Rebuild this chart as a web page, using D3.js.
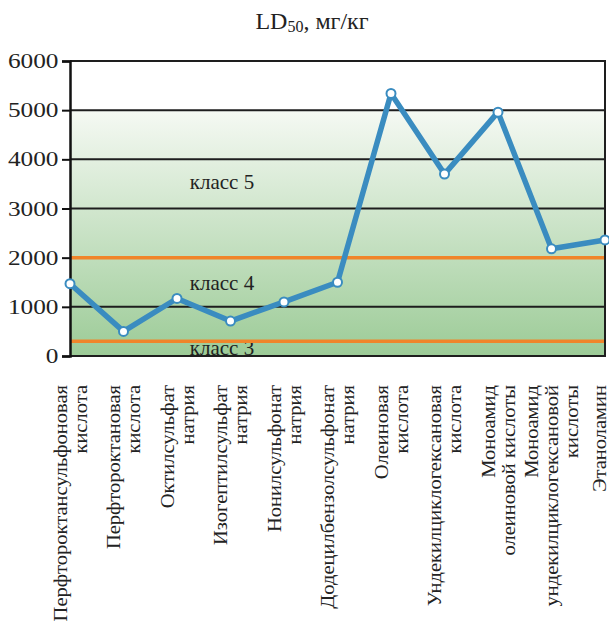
<!DOCTYPE html>
<html><head><meta charset="utf-8">
<script src="https://cdn.jsdelivr.net/npm/d3@7"></script>
<style>body{margin:0;background:#fff}svg{display:block}</style>
</head><body>
<svg id="c" width="609" height="626"></svg>
<script>
const categories = [
  ["Перфтороктансульфоновая","кислота"],
  ["Перфтороктановая","кислота"],
  ["Октилсульфат","натрия"],
  ["Изогептилсульфат","натрия"],
  ["Нонилсульфонат","натрия"],
  ["Додецилбензолсульфонат","натрия"],
  ["Олеиновая","кислота"],
  ["Ундекилциклогексановая","кислота"],
  ["Моноамид","олеиновой кислоты"],
  ["Моноамид","ундекилциклогексановой","кислоты"],
  ["Этаноламин"]
];
const ld50 = [1470, 500, 1170, 710, 1100, 1500, 5340, 3700, 4960, 2180, 2360];
const yTicks = [0, 1000, 2000, 3000, 4000, 5000, 6000];
const gridValues = [1000, 3000, 4000, 5000];
const classBounds = [300, 2000];
const classLabels = [{t:"класс 5", v:3400}, {t:"класс 4", v:1350}, {t:"класс 3", v:20}];

const svg = d3.select("#c");
const ff = "'Liberation Serif','Times New Roman',serif";
const L = 70, R = 605, T = 61, B = 356;
const x = d3.scalePoint().domain(d3.range(categories.length)).range([L, R]);
const y = d3.scaleLinear().domain([0, 6000]).range([B, T]);

const defs = svg.append("defs");
const g = defs.append("linearGradient").attr("id","bg").attr("x1",0).attr("y1",0).attr("x2",0).attr("y2",1);
g.append("stop").attr("offset","0%").attr("stop-color","#f5f9f3");
g.append("stop").attr("offset","100%").attr("stop-color","#9ccb97");
defs.append("clipPath").attr("id","pc").append("rect")
  .attr("x",L).attr("y",T).attr("width",R-L).attr("height",B-T);

// background
svg.append("rect").attr("x",L).attr("y",y(5000)).attr("width",R-L).attr("height",y(0)-y(5000)).attr("fill","url(#bg)");

// grid
svg.append("g").selectAll("line").data(gridValues).join("line")
  .attr("x1",L).attr("x2",R).attr("y1",d=>y(d)).attr("y2",d=>y(d))
  .attr("stroke","#1e1e1e").attr("stroke-width",2);

// class labels
svg.append("g").attr("clip-path","url(#pc)").selectAll("text").data(classLabels).join("text")
  .attr("x",222).attr("y",d=>y(d.v)).attr("text-anchor","middle")
  .style("font-family",ff).attr("font-size",21).attr("fill","#222").text(d=>d.t);

// class boundaries
svg.append("g").selectAll("line").data(classBounds).join("line")
  .attr("x1",L).attr("x2",R).attr("y1",d=>y(d)).attr("y2",d=>y(d))
  .attr("stroke","#f0852a").attr("stroke-width",3.5);

// frame top/right
svg.append("path").attr("d",`M${L},${T}H${R}V${B}H${L}`).attr("fill","none")
  .attr("stroke","#1e1e1e").attr("stroke-width",2);

// y axis
const ya = svg.append("g").attr("transform",`translate(${L},0)`)
  .call(d3.axisLeft(y).tickValues(yTicks).tickSize(8).tickPadding(2).tickFormat(d3.format("d")));
ya.attr("font-family", null);
ya.select(".domain").attr("stroke","#111").attr("stroke-width",2.5);
ya.selectAll(".tick line").attr("stroke","#111").attr("stroke-width",2);
ya.selectAll(".tick text").style("font-family",ff).style("font-size","22px").attr("fill","#222")
  .attr("dy","0.3em").attr("transform","scale(1.15,1)");

// line
svg.append("path").datum(ld50)
  .attr("d", d3.line().x((d,i)=>x(i)).y(d=>y(d)))
  .attr("fill","none").attr("stroke","#3a8cc0").attr("stroke-width",5.5).attr("stroke-linejoin","round");
svg.append("g").selectAll("circle").data(ld50).join("circle")
  .attr("cx",(d,i)=>x(i)).attr("cy",d=>y(d)).attr("r",4.5)
  .attr("fill","#fff").attr("stroke","#3a8cc0").attr("stroke-width",2);

// title
const title = svg.append("text").attr("x",312).attr("y",29).attr("text-anchor","middle")
  .style("font-family",ff).attr("font-size",24).attr("fill","#222");
title.append("tspan").text("LD");
title.append("tspan").attr("font-size",16).attr("dy",3).text("50");
title.append("tspan").attr("dy",-3).text(", мг/кг");

// category labels
const lineH = 20;
const cg = svg.append("g");
categories.forEach((lines, i) => {
  const cx = Math.min(x(i), 599);
  lines.forEach((s, j) => {
    const off = (j - (lines.length - 1) / 2) * lineH;
    cg.append("text")
      .attr("transform",`translate(${cx+off},385) rotate(-90) scale(1.08,1)`)
      .attr("text-anchor","end").attr("dominant-baseline","central")
      .style("font-family",ff).attr("font-size",19).attr("fill","#222").text(s);
  });
});
</script>
</body></html>
